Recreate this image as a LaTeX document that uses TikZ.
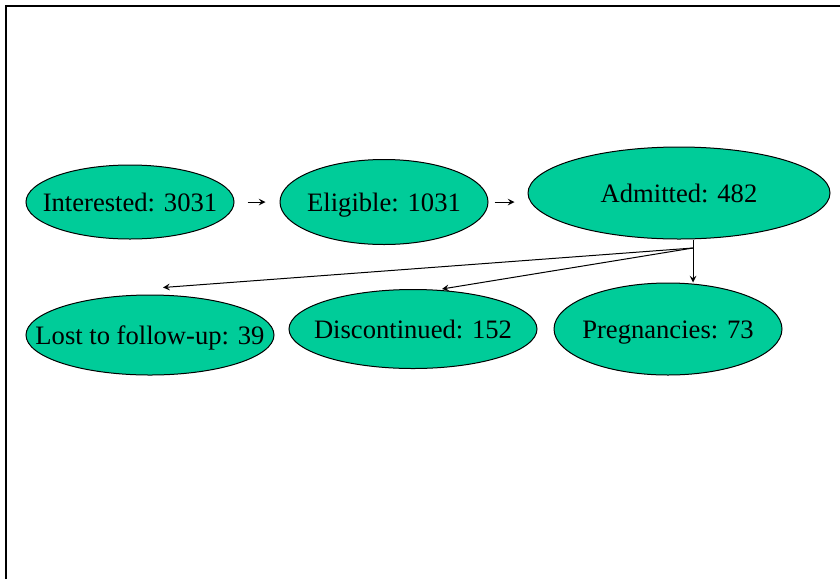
\documentclass[tikz,border=0pt]{standalone}
\usepackage{fontspec}
\setmainfont{Liberation Serif}
\usetikzlibrary{shapes,positioning}
\definecolor{stagegreen}{RGB}{0,204,153}
\tikzset{stage/.style={ellipse,draw,fill=stagegreen,inner sep=0pt,font=\fontsize{13.3}{16}\selectfont,
  text height=9.6pt,text depth=0pt,
  execute at begin node={\hbox to 0pt\bgroup\hss},execute at end node={\hss\egroup}}}

\begin{document}
\begin{tikzpicture}[>=stealth,x=0.5pt,y=-0.5pt,line width=0.5pt]
    \useasboundingbox (0,0) rectangle (840,579);
    \draw[line width=1pt] (6,579) -- (6,6) -- (840,6);

    \node[stage,minimum width=104pt,minimum height=37pt] (int) at (130,202) {Interested: 3031};
    \node[stage,minimum width=104pt,minimum height=42.5pt] (eli) at (384,202) {Eligible: 1031};
    \node[stage,minimum width=151pt,minimum height=46pt] (adm) at (679,193) {Admitted: 482};
    \node[stage,minimum width=124pt,minimum height=40pt] (lost) at (150,335) {Lost to follow-up: 39};
    \node[stage,minimum width=124pt,minimum height=39.5pt] (disc) at (413,329) {Discontinued: 152};
    \node[stage,minimum width=114pt,minimum height=46pt] (preg) at (668,329) {Pregnancies: 73};
    \coordinate (split) at (693,248);

    \draw [->,shorten <=6.5pt,shorten >=7pt] (int.east) -- (eli.west);
    \draw [->,shorten <=3pt,shorten >=6.5pt] (eli.east) -- (eli.east -| adm.west);
    \draw (adm.south -| split) -- (split);
    \draw [->] (split) -- ([xshift=6.5pt,yshift=3.5pt]lost.north);
    \draw [->] (split) -- ([xshift=14.5pt]disc.north);
    \draw [->] (split) -- (split |- preg.north);
\end{tikzpicture}
\end{document}
